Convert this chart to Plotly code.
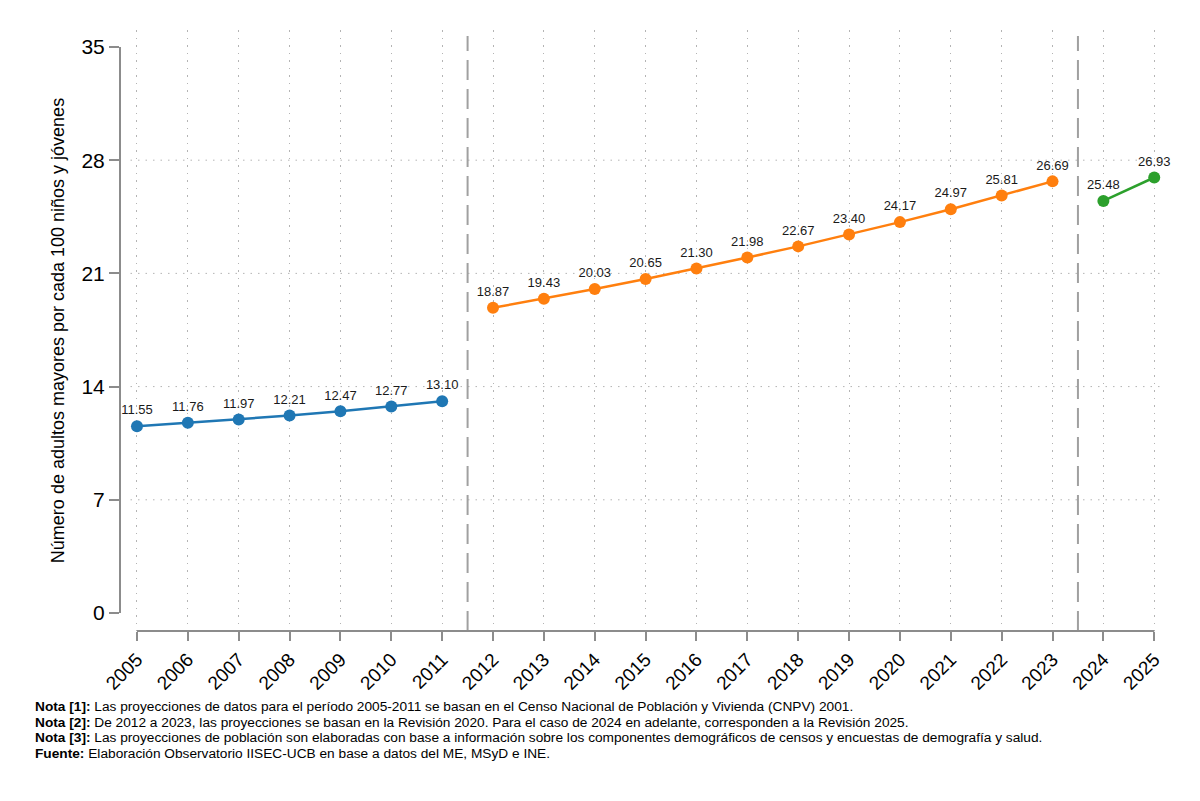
import plotly.graph_objects as go

years_a = [2005, 2006, 2007, 2008, 2009, 2010, 2011]
vals_a = [11.55, 11.76, 11.97, 12.21, 12.47, 12.77, 13.10]
years_b = [2012, 2013, 2014, 2015, 2016, 2017, 2018, 2019, 2020, 2021, 2022, 2023]
vals_b = [18.87, 19.43, 20.03, 20.65, 21.30, 21.98, 22.67, 23.40, 24.17, 24.97, 25.81, 26.69]
years_c = [2024, 2025]
vals_c = [25.48, 26.93]
colors = ["#1f77b4", "#ff7f0e", "#2ca02c"]
y_ticks = [0, 7, 14, 21, 28, 35]
x_ticks = list(range(2005, 2026))
breaks = [2011.5, 2023.5]
notes = [
    ("Nota [1]:", "Las proyecciones de datos para el período 2005-2011 se basan en el Censo Nacional de Población y Vivienda (CNPV) 2001."),
    ("Nota [2]:", "De 2012 a 2023, las proyecciones se basan en la Revisión 2020. Para el caso de 2024 en adelante, corresponden a la Revisión 2025."),
    ("Nota [3]:", "Las proyecciones de población son elaboradas con base a información sobre los componentes demográficos de censos y encuestas de demografía y salud."),
    ("Fuente:", "Elaboración Observatorio IISEC-UCB en base a datos del ME, MSyD e INE."),
]

FONT = "Liberation Sans Narrow, Arial Narrow, Liberation Sans, Arial, sans-serif"
GRID = "#b4b4b4"
DOTS = "1.5px,6px"
fig = go.Figure()
for xs, ys, c in [(years_a, vals_a, colors[0]), (years_b, vals_b, colors[1]), (years_c, vals_c, colors[2])]:
    fig.add_trace(go.Scatter(
        x=xs, y=ys, mode="lines+markers+text",
        line=dict(color=c, width=2.5),
        marker=dict(color=c, size=12),
        text=[f"{v:.2f}" for v in ys],
        textposition="top center",
        textfont=dict(family=FONT, size=13, color="#1a1a1a"),
        showlegend=False, cliponaxis=False,
    ))

shapes = []
for t in y_ticks[1:-1]:
    shapes.append(dict(type="line", xref="paper", yref="y", x0=0.01, x1=0.99, y0=t, y1=t,
                       line=dict(color=GRID, width=1, dash=DOTS), layer="below"))
for b in breaks:
    shapes.append(dict(type="line", xref="x", yref="paper", x0=b, x1=b, y0=0.0, y1=0.99,
                       line=dict(color="#a0a0a0", width=2, dash="20px,9px")))
# separated axis lines (Stata-like)
shapes.append(dict(type="line", xref="paper", yref="y", x0=0, x1=0, y0=y_ticks[0], y1=y_ticks[-1],
                   line=dict(color="#8c8c8c", width=2)))
shapes.append(dict(type="line", xref="x", yref="paper", x0=x_ticks[0], x1=x_ticks[-1], y0=0, y1=0,
                   line=dict(color="#8c8c8c", width=2)))

annotations = []
for i, (b, t) in enumerate(notes):
    annotations.append(dict(xref="paper", yref="paper", x=-0.083, y=-0.125 - i * 0.0265,
                            xanchor="left", yanchor="middle", showarrow=False, align="left",
                            text=f"<b>{b}</b> {t}",
                            font=dict(family=FONT, size=13.7, color="#000000")))

fig.update_layout(
    width=1200, height=801,
    margin=dict(l=120, r=30, t=30, b=170),
    plot_bgcolor="white", paper_bgcolor="white",
    font=dict(family=FONT, color="#1a1a1a"),
    shapes=shapes, annotations=annotations,
    xaxis=dict(range=[2004.666, 2025.31], tickvals=x_ticks, ticktext=[str(x) for x in x_ticks],
               tickangle=-45, ticks="outside", ticklen=9, tickwidth=2, tickcolor="#8c8c8c",
               showgrid=True, gridcolor=GRID, griddash=DOTS, gridwidth=1,
               showline=False, zeroline=False, tickfont=dict(family=FONT, size=19, color="#000000")),
    yaxis=dict(range=[-1.113, 36.05], tickvals=y_ticks, ticks="outside", ticklen=10, tickwidth=2,
               tickcolor="#8c8c8c", showgrid=False, showline=False, zeroline=False,
               tickfont=dict(family=FONT, size=21, color="#000000"),
               title=dict(text="Número de adultos mayores por cada 100 niños y jóvenes",
                          font=dict(family=FONT, size=18, color="#000000"), standoff=12)),
)
fig.write_html("out.html")
